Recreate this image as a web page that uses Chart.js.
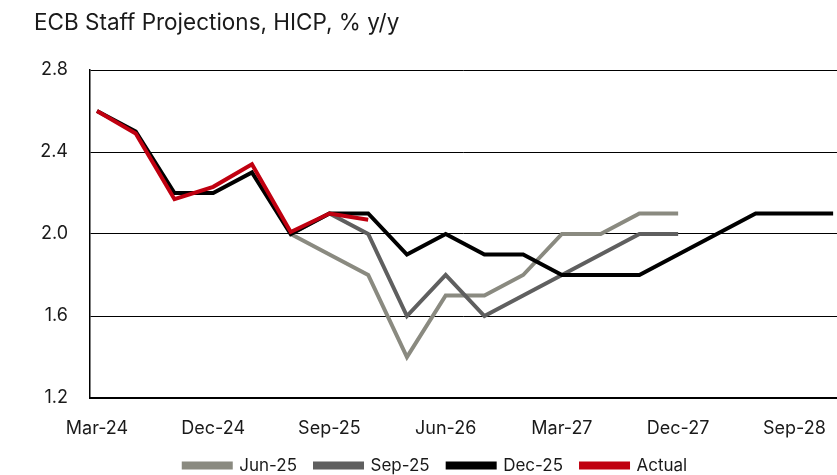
<!DOCTYPE html>
<html>
<head>
<meta charset="utf-8">
<script src="https://cdn.jsdelivr.net/npm/chart.js@4"></script>
<style>
  html, body { margin: 0; padding: 0; background: #fff; overflow: hidden; }
  #wrap { width: 837px; height: 475px; overflow: hidden; }
</style>
</head>
<body>
<div id="wrap"><canvas id="myChart" width="837" height="484"></canvas></div>
<script>
// quarterly dates, Mar-24 .. Dec-28
const quarters = ["Mar-24","Jun-24","Sep-24","Dec-24","Mar-25","Jun-25","Sep-25","Dec-25",
  "Mar-26","Jun-26","Sep-26","Dec-26","Mar-27","Jun-27","Sep-27","Dec-27",
  "Mar-28","Jun-28","Sep-28","Dec-28"];
const tickIdx = [0, 3, 6, 9, 12, 15, 18];
const yTicks = [1.2, 1.6, 2.0, 2.4, 2.8];

const jun25 = [null,null,null,null,null,2.0,1.9,1.8,1.4,1.7,1.7,1.8,2.0,2.0,2.1,2.1];
const sep25 = [null,null,null,null,null,2.0,2.1,2.0,1.6,1.8,1.6,1.7,1.8,1.9,2.0,2.0];
const dec25 = [2.6,2.5,2.2,2.2,2.3,2.0,2.1,2.1,1.9,2.0,1.9,1.9,1.8,1.8,1.8,1.9,2.0,2.1,2.1,2.1];
const actual = [2.6,2.49,2.17,2.23,2.34,2.01,2.1,2.07];

const font = "Inter, 'Noto Sans', sans-serif";

function toPts(arr) {
  let pts = [];
  for (let i = 0; i < arr.length; i++) {
    if (arr[i] !== null) pts.push({x: i, y: arr[i]});
  }
  return pts;
}

function ds(label, arr, color, order) {
  return {
    label: label,
    data: toPts(arr),
    borderColor: color,
    backgroundColor: color,
    borderWidth: 4,
    pointRadius: 0,
    tension: 0,
    order: order
  };
}

const data = {
  datasets: [
    ds('Jun-25', jun25, '#8a8a80', 3),
    ds('Sep-25', sep25, '#5f5f5f', 2),
    ds('Dec-25', dec25, '#000000', 1),
    ds('Actual', actual, '#c00010', 0)
  ]
};

const config = {
  type: 'line',
  data: data,
  options: {
    responsive: false,
    animation: false,
    layout: { padding: { left: 34, right: 0, top: 0, bottom: 0 } },
    plugins: {
      title: {
        display: true,
        text: 'ECB Staff Projections, HICP, % y/y',
        align: 'start',
        color: '#1a1a1a',
        font: { family: font, size: 22.5, weight: 'normal' },
        padding: { top: 10, bottom: 33 }
      },
      legend: {
        position: 'bottom',
        labels: {
          color: '#1a1a1a',
          font: { family: font, size: 17 },
          boxWidth: 47,
          boxHeight: 4,
          padding: 18,
          sort: (a, b) => a.datasetIndex - b.datasetIndex
        }
      },
      tooltip: { enabled: false }
    },
    scales: {
      x: {
        type: 'linear',
        min: -0.18,
        max: 19.1,
        grid: { display: false, drawTicks: false },
        border: { display: true, color: '#000', width: 2 },
        afterBuildTicks: (scale) => {
          scale.ticks = tickIdx.map(v => ({ value: v }));
        },
        afterFit: (scale) => {
          scale.height = 41;
          scale.paddingLeft = 0;
          scale.paddingRight = 0;
        },
        ticks: {
          padding: 20,
          maxRotation: 0,
          autoSkip: false,
          color: '#1a1a1a',
          font: { family: font, size: 18 },
          callback: (v) => quarters[v]
        }
      },
      y: {
        min: 1.2,
        max: 2.8,
        afterBuildTicks: (scale) => {
          scale.ticks = yTicks.map(v => ({ value: v }));
        },
        afterFit: (scale) => { scale.width = 56; },
        grid: { color: '#000', lineWidth: 1, drawTicks: false },
        border: { display: true, color: '#000', width: 1.5 },
        ticks: {
          padding: 22,
          color: '#1a1a1a',
          font: { family: font, size: 18 },
          callback: (v) => v.toFixed(1)
        }
      }
    }
  }
};

const myChart = new Chart(document.getElementById('myChart'), config);
</script>
</body>
</html>
